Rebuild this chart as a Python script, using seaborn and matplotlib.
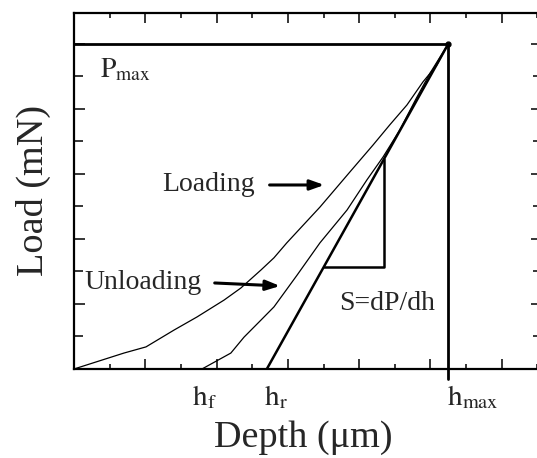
import numpy as np
import pandas as pd
import matplotlib
matplotlib.use("Agg")
import matplotlib.pyplot as plt
from matplotlib.ticker import MultipleLocator
import seaborn as sns

# Load-depth curves (depth in tick units, load in tick units)
loading_depth = [0.0, 1.40, 2.02, 2.81, 3.45, 4.21, 4.68, 5.25, 5.61, 5.97, 6.90,
                 7.74, 8.39, 8.86, 9.34, 9.79, 10.18, 10.5]
loading_load = [0.0, 0.49, 0.68, 1.20, 1.60, 2.12, 2.49, 3.05, 3.42, 3.88, 4.98,
                6.06, 6.89, 7.51, 8.12, 8.83, 9.35, 10.0]

unloading_depth = [3.59, 4.40, 4.77, 5.25, 5.61, 6.26, 6.90, 7.66, 8.22, 8.67,
                   9.14, 9.60, 10.0, 10.5]
unloading_load = [0.0, 0.49, 0.98, 1.51, 1.91, 2.89, 3.88, 4.89, 5.82, 6.52,
                  7.35, 8.32, 9.12, 10.0]

# Characteristic depths and peak load
h_f = 3.59
h_r = 5.41
h_max = 10.5
p_max = 10.0

# Stiffness triangle: vertical leg position and base height
s_leg_x = 8.70
s_base_y = 3.15

x_limits = (0, 13.13)
y_limits = (0, 10.95)

sns.set_theme(style="ticks")
plt.rcParams["font.family"] = ["Liberation Serif", "DejaVu Serif"]
plt.rcParams["mathtext.fontset"] = "stix"
plt.rcParams["axes.linewidth"] = 1.6

fig = plt.figure(figsize=(5.37, 4.58), dpi=100)
fig.patch.set_facecolor("white")
ax = fig.add_axes([74 / 537, 89 / 458, 468 / 537, 356 / 458])
ax.set_facecolor("white")

load_df = pd.DataFrame({"depth": loading_depth, "load": loading_load})
unload_df = pd.DataFrame({"depth": unloading_depth, "load": unloading_load})
sns.lineplot(data=load_df, x="depth", y="load", sort=False, estimator=None,
             color="black", lw=0.9, ax=ax)
sns.lineplot(data=unload_df, x="depth", y="load", sort=False, estimator=None,
             color="black", lw=0.9, ax=ax)

# Tangent to the unloading curve at peak load
ax.plot([h_r, h_max], [0, p_max], color="black", lw=1.8, solid_capstyle="butt")

# Stiffness triangle
slope = p_max / (h_max - h_r)
base_left = h_r + s_base_y / slope
leg_top = slope * (s_leg_x - h_r)
ax.plot([base_left, s_leg_x, s_leg_x], [s_base_y, s_base_y, leg_top],
        color="black", lw=1.8)

# Peak load and max depth guide lines
ax.plot([0, h_max], [p_max, p_max], color="black", lw=2.0, clip_on=False)
ax.plot([h_max, h_max], [p_max, -0.3], color="black", lw=2.0, clip_on=False)
ax.plot([h_max], [p_max], "o", color="black", ms=3.5, clip_on=False)

ax.set_xlim(*x_limits)
ax.set_ylim(*y_limits)

# Ticks without labels, pointing inward
ax.xaxis.set_major_locator(MultipleLocator(2))
ax.xaxis.set_minor_locator(MultipleLocator(1))
ax.yaxis.set_major_locator(MultipleLocator(2))
ax.yaxis.set_minor_locator(MultipleLocator(1))
ax.tick_params(axis="x", which="both", direction="in", top=True, bottom=True,
               labelbottom=False, labeltop=False, width=1.3)
ax.tick_params(axis="x", which="major", length=7)
ax.tick_params(axis="x", which="minor", length=3.5)
ax.tick_params(axis="y", which="both", direction="in", left=True, right=True,
               labelleft=False, labelright=False, width=1.3)
ax.tick_params(axis="y", which="major", length=8)
ax.tick_params(axis="y", which="minor", length=6.5)
for side in ["left", "right", "top", "bottom"]:
    ax.spines[side].set_visible(True)
    ax.spines[side].set_color("black")
    ax.spines[side].set_linewidth(1.6)

ax.set_xlabel("Depth (\u03bcm)", fontsize=27.5)
ax.set_ylabel("Load (mN)", fontsize=27.5)
ax.xaxis.set_label_coords(0.49, -0.145)
ax.yaxis.set_label_coords(-0.05, 0.5)

# Annotations
ax.text(0.73, 9.6, r"$\mathrm{P}_{\mathrm{max}}$", fontsize=20, ha="left", va="top")
ax.text(2.47, 5.66, "Loading", fontsize=20, ha="left", va="center")
ax.annotate("", xy=(7.10, 5.66), xytext=(5.41, 5.66),
            arrowprops=dict(arrowstyle="-|>,head_length=0.7,head_width=0.25",
                            color="black", lw=2.2))
ax.text(0.28, 2.65, "Unloading", fontsize=20, ha="left", va="center")
ax.annotate("", xy=(5.86, 2.55), xytext=(3.87, 2.65),
            arrowprops=dict(arrowstyle="-|>,head_length=0.7,head_width=0.25",
                            color="black", lw=2.2))
ax.text(7.43, 2.03, "S=dP/dh", fontsize=20, ha="left", va="center")

for xpos, lab in [(3.31, r"$\mathrm{h}_{\mathrm{f}}$"),
                  (5.33, r"$\mathrm{h}_{\mathrm{r}}$"),
                  (10.46, r"$\mathrm{h}_{\mathrm{max}}$")]:
    ax.text(xpos, -0.45, lab, fontsize=21, ha="left", va="top", clip_on=False)

fig.savefig("out.png", dpi=100, facecolor="white")
